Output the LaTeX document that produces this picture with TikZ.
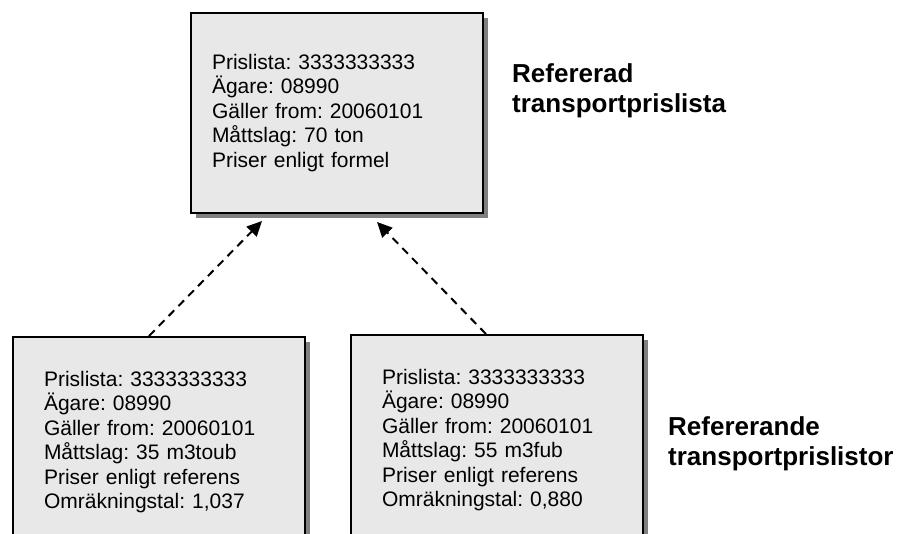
\documentclass[tikz,border=0pt]{standalone}
\usepackage{fontspec}
\setmainfont{Liberation Sans}
\frenchspacing
\usetikzlibrary{positioning}
\usetikzlibrary{arrows.meta}
\usetikzlibrary{shadows}
\tikzset{prisbox/.style = {draw, line width=2pt, fill=black!9, align=left,
                           anchor=north west, inner ysep=0pt,
                           font=\fontsize{21}{24.5}\selectfont,
                           drop shadow={shadow xshift=5pt, shadow yshift=-5pt,
                                        fill=black!50, opacity=1}}}
\tikzset{refpil/.style = {line width=2pt, dash pattern=on 8pt off 6pt,
                          -{Triangle[length=15pt,width=14pt]}}}
\tikzset{rubrik/.style = {font=\fontsize{26}{30}\selectfont\bfseries,
                          align=left, anchor=west, inner sep=0pt}}

\begin{document}
\begin{tikzpicture}[x=1pt, y=-1pt]
      \useasboundingbox (0,0) rectangle (901,533);
      \clip (0,0) rectangle (901,533);

      % refererad prislista
      \node[prisbox, text width=250pt, inner xsep=21pt, minimum height=200pt] (ref) at (190,12)
        {Prislista: 3333333333\\ Ägare: 08990\\ Gäller from: 20060101\\
         Måttslag: 70 ton\\ Priser enligt formel};

      % refererande prislistor
      \node[prisbox, text width=230pt, inner xsep=31pt, minimum height=210pt] (bl) at (12,336)
        {Prislista: 3333333333\\ Ägare: 08990\\ Gäller from: 20060101\\
         Måttslag: 35 m3toub\\ Priser enligt referens\\ Omräkningstal: 1,037};
      \node[prisbox, text width=230pt, inner xsep=31pt, minimum height=210pt] (br) at (350,334)
        {Prislista: 3333333333\\ Ägare: 08990\\ Gäller from: 20060101\\
         Måttslag: 55 m3fub\\ Priser enligt referens\\ Omräkningstal: 0,880};

      \node[rubrik] (refrubrik) at (512,91) {Refererad\\transportprislista};
      \node[rubrik] (rndrubrik) at (668,444) {Refererande\\transportprislistor};

      \coordinate (tipL) at (262,221);
      \coordinate (tipR) at (377,222);
      \draw[refpil] ([xshift=-10pt]bl.north) -- (tipL);
      \draw[refpil] ([xshift=-11pt]br.north) -- (tipR);
    \end{tikzpicture}
\end{document}
